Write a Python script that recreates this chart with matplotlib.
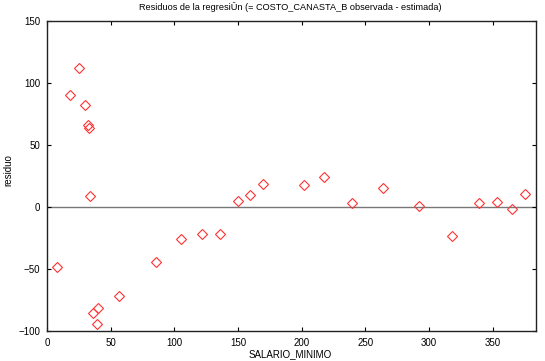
import numpy as np
import matplotlib
matplotlib.use("Agg")
import matplotlib.pyplot as plt

plt.rcParams['font.family'] = ['Liberation Sans', 'DejaVu Sans']

salario = [8.1, 18.1, 25.1, 30.1, 31.9, 33.2, 34.0, 35.9, 40.3, 39.0,
           56.8, 85.6, 104.9, 121.9, 135.8, 149.7, 159.6, 169.8, 201.5, 217.7,
           239.6, 263.7, 291.8, 317.7, 339.6, 353.5, 365.5, 375.7]
residuo = [-48.5, 89.9, 111.9, 82.1, 65.7, 63.5, 8.5, -86.1, -81.6, -94.5,
           -72.2, -44.5, -26.2, -21.9, -21.9, 5.0, 9.5, 18.1, 17.3, 24.0,
           2.6, 14.9, 0.2, -23.8, 2.6, 3.9, -2.0, 10.1]

fig = plt.figure(figsize=(5.45, 3.61), dpi=100)
ax = fig.add_axes([0.0862, 0.0839, 0.8973, 0.8588])

ax.axhline(0, color='#777777', lw=1.0, zorder=1)
ax.plot(salario, residuo, 'D', ms=5, mfc='none', mec='#ff3333', mew=0.8, zorder=3)

ax.set_xlim(0, 384)
ax.set_ylim(-100, 150)
ax.set_xticks(np.arange(0, 351, 50))
ax.set_yticks(np.arange(-100, 151, 50))
ax.tick_params(direction='in', length=3, width=0.8, labelsize=7, top=True, right=True, pad=5)
for s in ax.spines.values():
    s.set_linewidth(1.0)
    s.set_color('#222222')

fig.text(0.532, 1 - 7 / 361, 'Residuos de la regresiÛn (= COSTO_CANASTA_B observada - estimada)',
         fontsize=6.6, ha='center', va='center')
fig.text(0.532, 1 - 354 / 361, 'SALARIO_MINIMO', fontsize=7, ha='center', va='center')
fig.text(8 / 545, 1 - 170 / 361, 'residuo', fontsize=7, ha='center', va='center', rotation=90)

fig.savefig('out.png', dpi=100)
